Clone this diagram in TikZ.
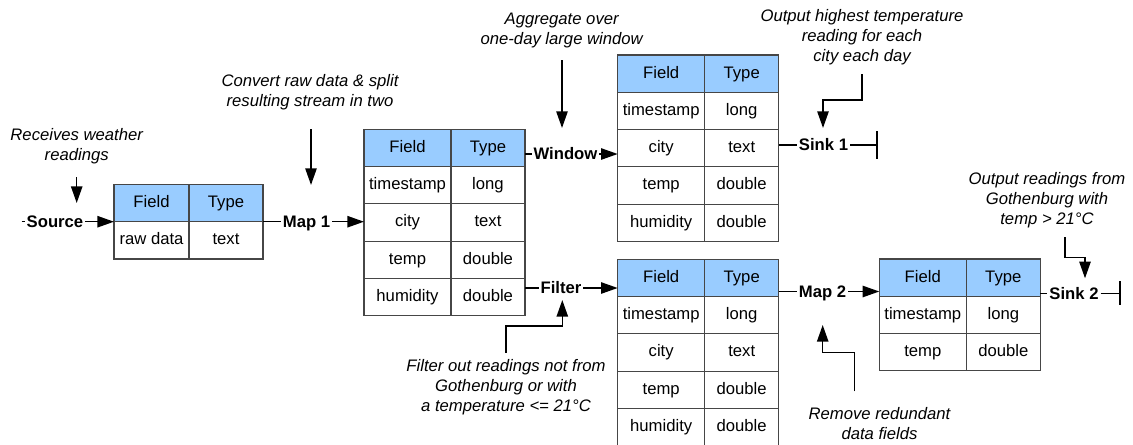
\documentclass[tikz,border=0pt]{standalone}
\usepackage{fontspec}
\setmainfont{Liberation Sans}
\usetikzlibrary{arrows.meta,positioning}

\definecolor{headblue}{RGB}{153,204,255}
\definecolor{gridgray}{RGB}{70,70,70}

\begin{document}
\begin{tikzpicture}[x=0.6pt,y=-0.6pt,
  font=\fontsize{10}{12}\selectfont,
  cell/.style={draw=gridgray, line width=0.65pt, anchor=north west, outer sep=0pt,
    inner sep=0pt, minimum height=22.4pt, text height=7.2pt, text depth=2pt},
  head/.style={cell, fill=headblue},
  op/.style={font=\fontsize{10}{12}\selectfont\bfseries, inner sep=1pt, text height=7pt, text depth=0pt},
  note/.style={font=\fontsize{10}{12}\selectfont\itshape, align=center, inner sep=0pt},
  wire/.style={line width=0.95pt},
  flow/.style={wire, -{Triangle[length=10pt,width=6.8pt]}},
  pointer/.style={flow}]
  \useasboundingbox (0,0) rectangle (1133,444);

  % Raw input table
  \node[head, minimum width=45pt] (raw-f0) at (114,184.3) {Field};
  \node[head, minimum width=44.4pt] (raw-t0) at (raw-f0.north east) {Type};
  \node[cell, minimum width=45pt] (raw-f1) at (raw-f0.south west) {raw data};
  \node[cell, minimum width=44.4pt] (raw-t1) at (raw-f1.north east) {text};

  % Full reading tables
  \foreach \tb/\x/\y in {parsed/364/129.3, daily/617.7/55, filt/617.7/259.3}{
    \node[head, minimum width=52.2pt] (\tb-f0) at (\x,\y) {Field};
    \node[head, minimum width=44.4pt] (\tb-t0) at (\tb-f0.north east) {Type};
    \foreach \f/\t [count=\i] in {timestamp/long, city/text, temp/double, humidity/double}{
      \node[cell, minimum width=52.2pt] (\tb-f\i) at (\x,{\y+37.3*\i}) {\f};
      \node[cell, minimum width=44.4pt] (\tb-t\i) at (\tb-f\i.north east) {\t};
    }
  }

  % Reduced table
  \node[head, minimum width=52.2pt] (red-f0) at (879.3,259) {Field};
  \node[head, minimum width=44.4pt] (red-t0) at (red-f0.north east) {Type};
  \foreach \f/\t [count=\i] in {timestamp/long, temp/double}{
    \node[cell, minimum width=52.2pt] (red-f\i) at (879.3,{259+37.3*\i}) {\f};
    \node[cell, minimum width=44.4pt] (red-t\i) at (red-f\i.north east) {\t};
  }

  % Operators
  \coordinate (srcin) at (21.7,221.7);
  \node[op] (source) at (55,221.7) {Source};
  \draw[wire] (srcin) -- (source);
  \draw[flow] (source) -- (source -| raw-f0.west);

  \node[op] (map1) at (306.5,221.7) {Map 1};
  \draw[wire] (map1 -| raw-t1.east) -- (map1);
  \draw[flow] (map1) -- (map1 -| parsed-f0.west);

  \node[op] (window) at (565.5,154) {Window};
  \draw[wire] (window -| parsed-t0.east) -- (window);
  \draw[flow] (window) -- (window -| daily-f0.west);

  \node[op] (sink1) at (823.5,145) {Sink 1};
  \coordinate (sink1end) at (878,145);
  \draw[wire] (sink1 -| daily-t0.east) -- (sink1);
  \draw[wire, -{Bar[width=16.6pt]}] (sink1) -- (sink1end);

  \node[op] (filter) at (561,288) {Filter};
  \draw[wire] (filter -| parsed-t0.east) -- (filter);
  \draw[flow] (filter) -- (filter -| filt-f0.west);

  \node[op] (map2) at (822.5,291.5) {Map 2};
  \draw[wire] (map2 -| filt-t0.east) -- (map2);
  \draw[flow] (map2) -- (map2 -| red-f0.west);

  \node[op] (sink2) at (1074,293.3) {Sink 2};
  \coordinate (sink2end) at (1120.7,293.3);
  \draw[wire] (sink2 -| red-t0.east) -- (sink2);
  \draw[wire, -{Bar[width=14.4pt]}] (sink2) -- (sink2end);

  % Notes
  \node[note] (recvnote) at (76.7,146) {Receives weather\\readings};
  \node[note] (convnote) at (310,92) {Convert raw data \& split\\resulting stream in two};
  \node[note] (aggnote) at (561.7,30) {Aggregate over\\one-day large window};
  \node[note] (hotnote) at (862,37.5) {Output highest temperature\\reading for each\\city each day};
  \node[note] (filtnote) at (506,386.7) {Filter out readings not from\\Gothenburg or with\\a temperature <= 21°C};
  \node[note] (rmnote) at (879.5,423.5) {Remove redundant\\data fields};
  \node[note] (gbgnote) at (1047,200) {Output readings from\\Gothenburg with\\temp > 21°C};

  \coordinate (srcpin) at (76.7,203);
  \coordinate (map1pin) at (311,185);
  \coordinate (windowpin) at (562,128);
  \coordinate (sink1pin) at (823,128);
  \coordinate (filterpin) at (562.3,300);
  \coordinate (map2pin) at (822.7,325);
  \coordinate (sink2pin) at (1085,278.3);

  \draw[pointer, shorten <=7.8pt] (recvnote.south -| srcpin) -- (srcpin);
  \draw[pointer, shorten <=11.6pt] (convnote.south -| map1pin) -- (map1pin);
  \draw[pointer, shorten <=7.4pt] (aggnote.south -| windowpin) -- (windowpin);
  \draw[pointer, shorten <=5.2pt] (hotnote.south) |- (sink1pin |- 0,100) -- (sink1pin);
  \draw[pointer, shorten <=3.6pt] (filtnote.north) |- (filterpin |- 0,326) -- (filterpin);
  \draw[pointer, shorten <=9.4pt] (rmnote.north -| 854.7,0) |- (map2pin |- 0,352.7) -- (map2pin);
  \draw[pointer, shorten <=5.4pt] (gbgnote.south -| 1065,0) |- (sink2pin |- 0,257.3) -- (sink2pin);
\end{tikzpicture}
\end{document}
